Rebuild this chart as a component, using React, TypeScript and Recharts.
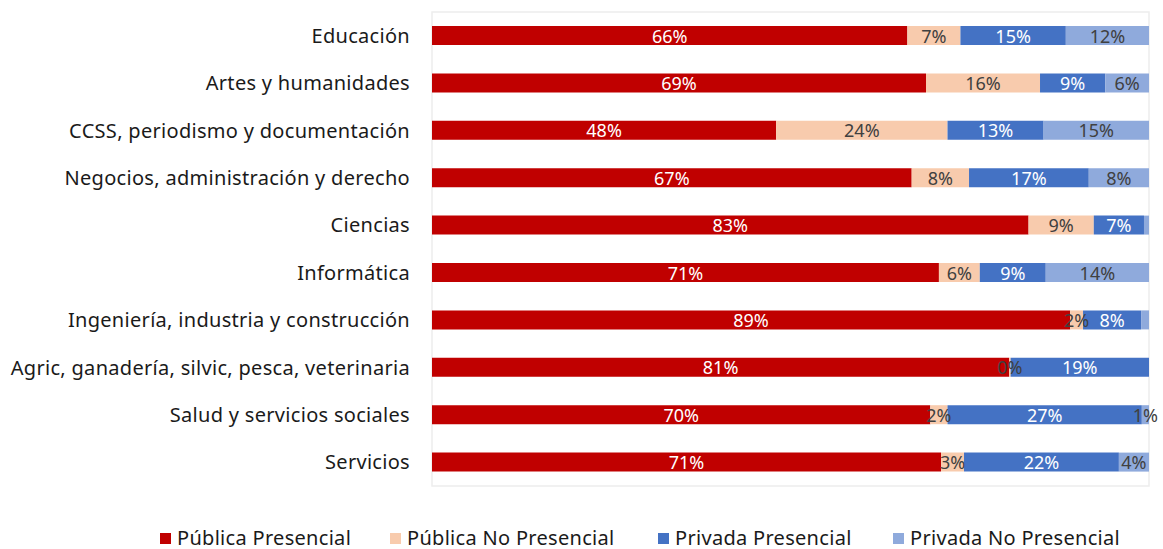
import React from "react";
import { BarChart, Bar, XAxis, YAxis, LabelList, Legend, ReferenceArea } from "recharts";

const categories = [
  "Educación",
  "Artes y humanidades",
  "CCSS, periodismo y documentación",
  "Negocios, administración y derecho",
  "Ciencias",
  "Informática",
  "Ingeniería, industria y construcción",
  "Agric, ganadería, silvic, pesca, veterinaria",
  "Salud y servicios sociales",
  "Servicios",
];

const publicaPresencial = [66.3, 68.9, 48.0, 66.9, 83.2, 70.7, 89.0, 80.5, 69.5, 71.0];
const publicaNoPresencial = [7.4, 15.9, 23.9, 8.0, 9.1, 5.7, 1.8, 0.2, 2.4, 3.2];
const privadaPresencial = [14.7, 9.1, 13.4, 16.7, 7.0, 9.2, 8.1, 19.3, 27.1, 21.6];
const privadaNoPresencial = [11.6, 6.1, 14.7, 8.4, 0.7, 14.4, 1.1, 0.0, 1.0, 4.2];

const lblPublicaPresencial = ["66%", "69%", "48%", "67%", "83%", "71%", "89%", "81%", "70%", "71%"];
const lblPublicaNoPresencial = ["7%", "16%", "24%", "8%", "9%", "6%", "2%", "0%", "2%", "3%"];
const lblPrivadaPresencial = ["15%", "9%", "13%", "17%", "7%", "9%", "8%", "19%", "27%", "22%"];
const lblPrivadaNoPresencial = ["12%", "6%", "15%", "8%", "", "14%", "", "", "1%", "4%"];

const seriesNames = ["Pública Presencial", "Pública No Presencial", "Privada Presencial", "Privada No Presencial"];
const seriesColors = ["#C00000", "#F8CBAD", "#4472C4", "#8FAADC"];
const labelColors = ["#FFFFFF", "#404040", "#FFFFFF", "#404040"];

const data = categories.map((c, i) => ({
  name: c,
  s0: publicaPresencial[i],
  s1: publicaNoPresencial[i],
  s2: privadaPresencial[i],
  s3: privadaNoPresencial[i],
  l0: lblPublicaPresencial[i],
  l1: lblPublicaNoPresencial[i],
  l2: lblPrivadaPresencial[i],
  l3: lblPrivadaNoPresencial[i],
}));

const FONT = "'Noto Sans', 'Open Sans', sans-serif";

const makeLabel = (color: string) => (props: any) => {
  const vb = props.viewBox || props;
  const x = Number(vb.x ?? props.x);
  const y = Number(vb.y ?? props.y);
  const w = Number(vb.width ?? props.width);
  const h = Number(vb.height ?? props.height);
  const v = props.value;
  if (v === "" || v == null) return null;
  return (
    <text
      x={x + w / 2}
      y={y + h / 2}
      textAnchor="middle"
      dominantBaseline="central"
      fill={color}
      fontSize={18}
      fontFamily={FONT}
    >
      {v}
    </text>
  );
};

const legendWidths = [230, 268, 235, 240];

const LegendContent = () => (
  <div style={{ height: 63, position: "relative", fontFamily: FONT }}>
    <div style={{ position: "absolute", top: 41, left: 160, display: "flex" }}>
      {seriesNames.map((n, i) => (
        <div key={n} style={{ width: legendWidths[i], display: "flex", alignItems: "center" }}>
          <span style={{ display: "inline-block", width: 11, height: 11, background: seriesColors[i], marginRight: 6 }} />
          <span style={{ fontSize: 20, letterSpacing: 0.3, color: "#1A1A1A", lineHeight: "22px", whiteSpace: "nowrap" }}>{n}</span>
        </div>
      ))}
    </div>
  </div>
);

export default function App() {
  return (
    <div style={{ position: "absolute", left: 0, top: 0, width: 1163, height: 549, background: "#fff" }}>
      <BarChart
        width={1163}
        height={549}
        data={data}
        layout="vertical"
        margin={{ top: 12, right: 14, bottom: 0, left: 0 }}
        barSize={19}
      >
        <XAxis type="number" domain={[0, 100]} hide />
        <YAxis
          type="category"
          dataKey="name"
          width={432}
          tickLine={false}
          axisLine={false}
          tickMargin={16}
          interval={0}
          tick={{ fontSize: 20, letterSpacing: 0.3, fill: "#1A1A1A", fontFamily: FONT }}
        />
        <ReferenceArea x1={0} x2={100} fill="none" stroke="#EDEDED" strokeWidth={1.5} ifOverflow="visible" />
        <Legend verticalAlign="bottom" content={<LegendContent />} />
        {["s0", "s1", "s2", "s3"].map((k, i) => (
          <Bar key={k} dataKey={k} stackId="a" fill={seriesColors[i]} isAnimationActive={false} name={seriesNames[i]}>
            <LabelList dataKey={"l" + i} content={makeLabel(labelColors[i])} />
          </Bar>
        ))}
      </BarChart>
    </div>
  );
}
